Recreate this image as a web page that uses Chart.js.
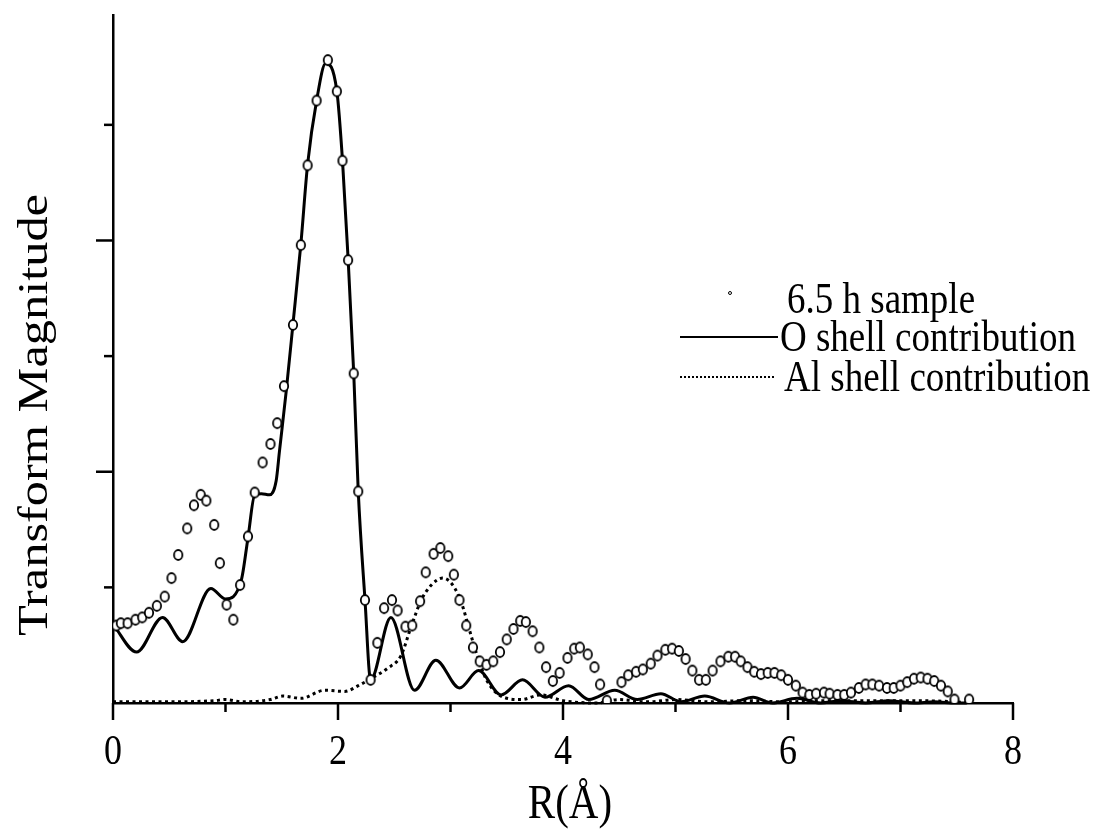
<!DOCTYPE html>
<html>
<head>
<meta charset="utf-8">
<script src="https://cdn.jsdelivr.net/npm/chart.js@4.4.1/dist/chart.umd.min.js"></script>
<style>
  html, body { margin: 0; padding: 0; background: #fff; }
</style>
</head>
<body>
<canvas id="chart" width="1107" height="837"></canvas>
<script>
// 6.5 h sample (open circles)
const sampleR = [0.03, 0.07, 0.13, 0.20, 0.26, 0.32, 0.39, 0.46, 0.52, 0.58,
  0.66, 0.72, 0.78, 0.83, 0.90, 0.95, 1.01, 1.07, 1.13, 1.20,
  1.26, 1.33, 1.40, 1.46, 1.52, 1.60, 1.67, 1.73, 1.81, 1.91,
  1.99, 2.04, 2.09, 2.14, 2.18, 2.24, 2.29, 2.35, 2.41, 2.48,
  2.53, 2.60, 2.66, 2.73, 2.78, 2.85, 2.91, 2.98, 3.03, 3.08,
  3.14, 3.20, 3.26, 3.32, 3.38, 3.44, 3.50, 3.56, 3.62, 3.67,
  3.73, 3.79, 3.85, 3.91, 3.97, 4.04, 4.10, 4.15, 4.22, 4.28,
  4.33, 4.39, 4.52, 4.58, 4.65, 4.71, 4.78, 4.84, 4.91, 4.97,
  5.03, 5.09, 5.15, 5.21, 5.27, 5.33, 5.40, 5.47, 5.53, 5.58,
  5.64, 5.70, 5.76, 5.82, 5.88, 5.94, 6.00, 6.07, 6.13, 6.19,
  6.25, 6.32, 6.37, 6.44, 6.50, 6.56, 6.63, 6.69, 6.75, 6.81,
  6.88, 6.94, 7.00, 7.06, 7.12, 7.18, 7.24, 7.30, 7.36, 7.42,
  7.48, 7.61]
const sampleMag = [0.67, 0.69, 0.69, 0.72, 0.74, 0.78, 0.84, 0.92, 1.08, 1.28,
  1.51, 1.71, 1.80, 1.75, 1.54, 1.21, 0.85, 0.72, 1.02, 1.44,
  1.82, 2.08, 2.24, 2.42, 2.74, 3.27, 3.96, 4.65, 5.21, 5.56,
  5.29, 4.69, 3.83, 2.85, 1.83, 0.89, 0.20, 0.52, 0.82, 0.89,
  0.80, 0.66, 0.67, 0.88, 1.13, 1.29, 1.34, 1.27, 1.11, 0.89,
  0.67, 0.48, 0.36, 0.33, 0.36, 0.44, 0.55, 0.64, 0.71, 0.70,
  0.62, 0.48, 0.31, 0.19, 0.26, 0.39, 0.47, 0.48, 0.42, 0.31,
  0.16, 0.02, 0.18, 0.24, 0.27, 0.29, 0.34, 0.41, 0.46, 0.47,
  0.45, 0.38, 0.28, 0.20, 0.20, 0.28, 0.36, 0.40, 0.40, 0.36,
  0.31, 0.27, 0.25, 0.26, 0.26, 0.24, 0.20, 0.15, 0.09, 0.07,
  0.08, 0.09, 0.08, 0.07, 0.07, 0.09, 0.13, 0.16, 0.16, 0.15,
  0.13, 0.13, 0.15, 0.18, 0.21, 0.22, 0.21, 0.19, 0.15, 0.10,
  0.03, 0.03]

// O shell contribution (solid line)
const oShellR = [0, 0.21, 0.44, 0.62, 0.87, 1.00, 1.14, 1.20, 1.26, 1.32,
  1.39, 1.45, 1.48, 1.54, 1.60, 1.67, 1.73, 1.81, 1.89, 1.99,
  2.04, 2.09, 2.14, 2.18, 2.24, 2.29, 2.47, 2.68, 2.87, 3.08,
  3.25, 3.45, 3.64, 3.84, 4.05, 4.23, 4.46, 4.66, 4.87, 5.05,
  5.26, 5.48, 5.69, 5.86, 6.08, 6.29, 6.47, 6.69, 6.90, 7.12,
  7.30, 7.49, 7.58]
const oShellMag = [0.68, 0.44, 0.74, 0.53, 0.99, 0.90, 1.06, 1.43, 1.80, 1.81,
  1.80, 1.92, 2.18, 2.70, 3.28, 3.97, 4.66, 5.21, 5.53, 5.29,
  4.69, 3.84, 2.85, 1.83, 0.89, 0.20, 0.74, 0.11, 0.37, 0.13,
  0.28, 0.07, 0.20, 0.05, 0.15, 0.03, 0.11, 0.03, 0.08, 0.01,
  0.06, 0.0, 0.05, 0.0, 0.04, 0.0, 0.02, 0.0, 0.02, 0.0,
  0.01, 0.0, 0.0]

// Al shell contribution (dotted line)
const alShellR = [0, 0.5, 0.9, 1.0, 1.15, 1.4, 1.51, 1.67, 1.88, 2.06,
  2.18, 2.29, 2.44, 2.56, 2.65, 2.74, 2.83, 2.93, 3.02, 3.10,
  3.16, 3.24, 3.32, 3.43, 3.63, 3.80, 4.00, 4.30, 4.50, 4.75,
  5.00, 5.30, 5.60, 6.00, 6.30, 7.00, 7.50, 7.60]
const alShellMag = [0.01, 0.01, 0.02, 0.03, 0.01, 0.03, 0.06, 0.04, 0.11, 0.10,
  0.15, 0.21, 0.30, 0.41, 0.66, 0.89, 1.02, 1.08, 1.02, 0.86,
  0.66, 0.40, 0.20, 0.07, 0.03, 0.07, 0.02, 0.0, 0.03, 0.01,
  0.03, 0.01, 0.02, 0.01, 0.02, 0.02, 0.01, 0.0]

const xTickValues = [0, 2, 4, 6, 8]
const xTickLabels = ["0", "2", "4", "6", "8"]
const xMinorTicks = [1, 3, 5, 7]
const yTickValues = [1, 2, 3, 4, 5]

const serif = "'Liberation Serif', 'Times New Roman', serif"
// the scan is squashed sideways, so type comes out taller than Times
const stretch = 1.2

const toPoints = (xs, ys) => xs.map((x, i) => ({ x: x, y: ys[i] }))

// slightly tall open ring, like the scanned markers
const ring = document.createElement("canvas")
ring.width = 12
ring.height = 14
const rc = ring.getContext("2d")
rc.beginPath()
rc.ellipse(6, 7, 4.2, 5, 0, 0, Math.PI * 2)
rc.fillStyle = "#fff"
rc.fill()
rc.lineWidth = 1.8
rc.strokeStyle = "#000"
rc.stroke()

const tallText = (ctx, text, x, y) => {
  ctx.save()
  ctx.translate(x, y)
  ctx.scale(1, stretch)
  ctx.fillText(text, 0, 0)
  ctx.restore()
}

// ticks, tick labels, axis titles and the legend
const figureDecor = {
  id: "figureDecor",
  afterDraw(chart) {
    const { ctx, chartArea, scales } = chart
    const x = scales.x
    const y = scales.y
    ctx.save()
    ctx.strokeStyle = "#000"
    ctx.fillStyle = "#000"
    ctx.lineWidth = 2.5

    const seg = (x1, y1, x2, y2) => {
      ctx.beginPath()
      ctx.moveTo(x1, y1)
      ctx.lineTo(x2, y2)
      ctx.stroke()
    }

    xTickValues.forEach(v => {
      const px = x.getPixelForValue(v)
      seg(px, chartArea.bottom, px, chartArea.bottom + 17)
    })
    xMinorTicks.forEach(v => {
      const px = x.getPixelForValue(v)
      seg(px, chartArea.bottom, px, chartArea.bottom + 9)
    })
    yTickValues.forEach(v => {
      const py = y.getPixelForValue(v)
      const len = v % 2 === 0 ? 17 : 9
      seg(chartArea.left - len, py, chartArea.left, py)
    })

    ctx.textAlign = "center"
    ctx.textBaseline = "middle"
    ctx.font = "36px " + serif
    xTickValues.forEach((v, i) => {
      tallText(ctx, xTickLabels[i], x.getPixelForValue(v), chartArea.bottom + 50)
    })

    // axis titles
    ctx.font = "41px " + serif
    tallText(ctx, "R(Å)", 570, 805)

    ctx.save()
    ctx.translate(36, 415)
    ctx.rotate(-Math.PI / 2)
    ctx.scale(stretch, 1)
    ctx.font = "42px " + serif
    ctx.fillText("Transform Magnitude", 0, 0)
    ctx.restore()

    // legend
    const ds = chart.data.datasets
    ctx.textAlign = "left"
    ctx.font = "37px " + serif

    ctx.beginPath()
    ctx.arc(730, 293, 1.5, 0, Math.PI * 2)
    ctx.lineWidth = 1
    ctx.stroke()
    tallText(ctx, ds[0].label, 787, 301)

    ctx.lineWidth = 2
    seg(680, 337, 778, 337)
    tallText(ctx, ds[1].label, 780, 339)

    ctx.setLineDash([2, 2])
    ctx.lineWidth = 2
    seg(680, 377, 776, 377)
    ctx.setLineDash([])
    tallText(ctx, ds[2].label, 784, 379)

    ctx.restore()
  }
}

new Chart(document.getElementById("chart"), {
  type: "scatter",
  data: {
    datasets: [
      {
        label: "6.5 h sample",
        data: toPoints(sampleR, sampleMag),
        showLine: false,
        pointStyle: ring,
        pointRadius: 5
      },
      {
        label: "O shell contribution",
        data: toPoints(oShellR, oShellMag),
        showLine: true,
        borderColor: "#000",
        borderWidth: 3,
        pointRadius: 0,
        cubicInterpolationMode: "monotone",
        clip: 6
      },
      {
        label: "Al shell contribution",
        data: toPoints(alShellR, alShellMag),
        showLine: true,
        borderColor: "#000",
        borderWidth: 3,
        borderDash: [3, 3.5],
        pointRadius: 0,
        cubicInterpolationMode: "monotone",
        clip: 6
      }
    ]
  },
  options: {
    responsive: false,
    animation: false,
    layout: {
      padding: { top: 15, right: 94, left: 0, bottom: 0 }
    },
    scales: {
      x: {
        type: "linear",
        min: 0,
        max: 8,
        afterFit: (scale) => { scale.height = 134 },
        grid: { display: false, drawTicks: false },
        border: { display: true, color: "#000", width: 2.5 },
        ticks: { display: false, stepSize: 2 }
      },
      y: {
        type: "linear",
        min: 0,
        max: 5.95,
        afterFit: (scale) => { scale.width = 113 },
        grid: { display: false, drawTicks: false },
        border: { display: true, color: "#000", width: 2.5 },
        ticks: { display: false, stepSize: 1 }
      }
    },
    plugins: {
      legend: { display: false },
      tooltip: { enabled: false }
    }
  },
  plugins: [figureDecor]
})
</script>
</body>
</html>
